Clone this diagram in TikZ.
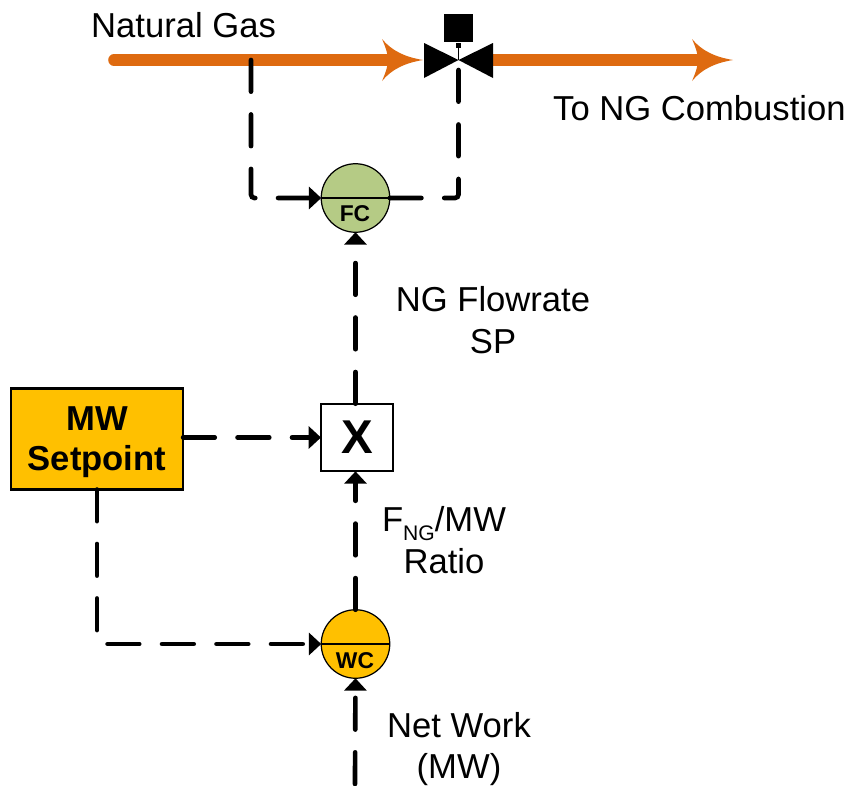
\documentclass[tikz,border=0pt]{standalone}
\usepackage{fontspec}
\setmainfont{Liberation Sans}
\usetikzlibrary{arrows.meta}
\definecolor{gasorange}{HTML}{DE6A10}
\definecolor{fcgreen}{HTML}{B5CB85}
\definecolor{amber}{HTML}{FFC000}
\tikzset{
	sig/.style={
		line width=2.66pt,
		line cap=round,
		rounded corners=2pt,
		dash pattern=on 18pt off 13pt,
		-{Triangle[length=7pt, width=12.5pt]}
	},
	sigplain/.style={
		sig,
		-
	},
	gas/.style={
		draw=gasorange,
		line width=6.6pt,
		line cap=round,
		shorten >=20pt
	},
	gastip/.pic={
		\fill[gasorange] (0, 0) .. controls (-18, -3) and (-31, -9) .. (-41, -21)
			.. controls (-37, -12) and (-35, -5) .. (-35, 0)
			.. controls (-35, 5) and (-37, 12) .. (-41, 21)
			.. controls (-31, 9) and (-18, 3) .. (0, 0) -- cycle;
	},
	ctrl/.style={
		circle,
		draw,
		line width=.7pt,
		minimum size=39pt,
		inner sep=0pt,
		outer sep=0pt
	},
	lbl/.style={
		font=\fontsize{19.7pt}{23.5pt}\selectfont
	},
	tag/.style={
		font=\fontsize{13pt}{15pt}\selectfont\bfseries
	}
}

\begin{document}
\begin{tikzpicture}[x=.2mm, y=-.2mm]
\useasboundingbox (0, 0) rectangle (852, 786);

\coordinate (GasIn) at (114, 60);
\coordinate (GasTap) at (251, 60);
\coordinate (GasOut) at (733, 60);
\coordinate (PvIn) at (423, 60);
\coordinate (Pv) at (458.5, 60);
\coordinate (PvOut) at (493, 60);
\coordinate (NetIn) at (355, 784);

\node[ctrl, fill=fcgreen] (FC) at (355.5, 198) {};
\node[ctrl, fill=amber] (WC) at (355.5, 644) {};
\node[draw, line width=1.1pt, fill=white, outer sep=0pt, inner sep=0pt, minimum width=41pt, minimum height=38.5pt, font=\fontsize{27pt}{30pt}\selectfont\bfseries] (X) at (357, 437.5) {X};
\node[draw, line width=1.5pt, fill=amber, outer sep=0pt, inner sep=0pt, minimum width=98pt, minimum height=57.5pt] (MW) at (97, 439) {};
\node[align=center, font=\fontsize{19.7pt}{23pt}\selectfont\bfseries] (MWlbl) at (97, 442) {MW\\Setpoint};

\draw[line width=.7pt] (FC.west) -- (FC.east);
\draw[line width=.7pt] (WC.west) -- (WC.east);
\node[tag] (FClbl) at (355, 214) {FC};
\node[tag] (WClbl) at (355, 661) {WC};

% gas line and valve
\draw[gas] (GasIn) -- (PvIn);
\draw[gas] (PvOut) -- (GasOut);
\pic at (PvIn) {gastip};
\pic at (GasOut) {gastip};
\fill (424, 43) -- (Pv) -- (493, 43) -- (493, 78) -- (Pv) -- (424, 78) -- cycle;
\node[fill, inner sep=0pt, minimum size=16.5pt] (Act) at (458.5, 28) {};
\draw[line width=.6pt] (Act.south) -- (Pv);
\draw[line width=2.6pt] (Act.south) -- ++(0, 5);

% signals
\draw[sig] (GasTap) |- (FC.west);
\draw[sigplain] (FC.east) -| (Pv);
\draw[sig] (FC.south |- X.north) -- (FC.south);
\draw[sig] (MW.east |- X.west) -- (X.west);
\draw[sig] (WC.north) -- (WC.north |- X.south);
\draw[sig] (MW.south) |- (WC.west);
\draw[sig] (NetIn) -- (WC.south);

\node[lbl, anchor=west] (GasLbl) at (85, 25) {Natural Gas};
\node[lbl, anchor=west] (OutLbl) at (547, 108) {To NG Combustion};
\node[lbl, align=center] (SpLbl) at (493, 320) {NG Flowrate\\SP};
\node[lbl, align=center] (RatioLbl) at (444, 540) {F\raisebox{-.25em}{\fontsize{12pt}{14pt}\selectfont NG}/MW\\Ratio};
\node[lbl, align=center] (NetLbl) at (459, 749) {Net Work\\(MW)};
\end{tikzpicture}
\end{document}
